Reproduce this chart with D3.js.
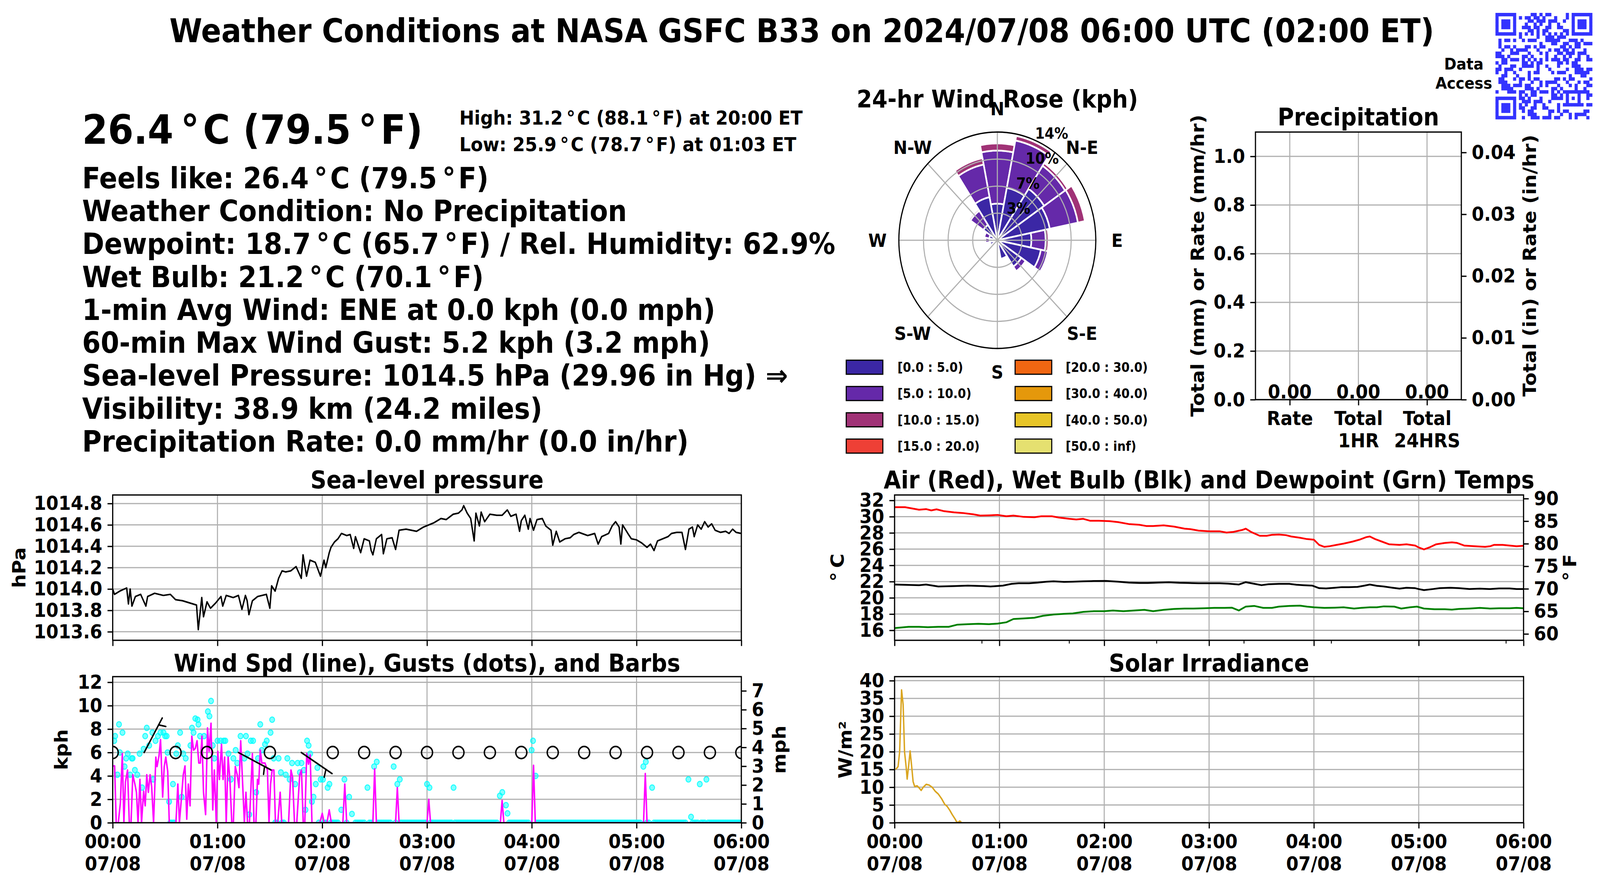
<!DOCTYPE html>
<html><head><meta charset="utf-8">
<script src="https://cdn.jsdelivr.net/npm/d3@7/dist/d3.min.js"></script>
<style>html,body{margin:0;padding:0;background:#fff;overflow:hidden;}
#chart{display:block;width:100vw;height:100vh;}</style>
</head>
<body><svg id="chart" viewBox="0 0 4500 2250" preserveAspectRatio="none" xmlns="http://www.w3.org/2000/svg"></svg>
<script>
// ================= DATA =================
const DEG = "\u2009°\u200A";
const titleText = "Weather Conditions at NASA GSFC B33 on 2024/07/08 06:00 UTC (02:00 ET)";
const headlineText = "26.4" + DEG + "C (79.5" + DEG + "F)";
const highLowText = ["High: 31.2" + DEG + "C (88.1" + DEG + "F) at 20:00 ET",
                     "Low: 25.9" + DEG + "C (78.7" + DEG + "F) at 01:03 ET"];
const infoText = [
  "Feels like: 26.4" + DEG + "C (79.5" + DEG + "F)",
  "Weather Condition: No Precipitation",
  "Dewpoint: 18.7" + DEG + "C (65.7" + DEG + "F) / Rel. Humidity: 62.9%",
  "Wet Bulb: 21.2" + DEG + "C (70.1" + DEG + "F)",
  "1-min Avg Wind: ENE at 0.0 kph (0.0 mph)",
  "60-min Max Wind Gust: 5.2 kph (3.2 mph)",
  "Sea-level Pressure: 1014.5 hPa (29.96 in Hg) \u21D2",
  "Visibility: 38.9 km (24.2 miles)",
  "Precipitation Rate: 0.0 mm/hr (0.0 in/hr)"
];

// Sea-level pressure (minutes after 00:00 UTC, hPa)
const pressureMin = [0,1,4,8,9,10,11,13,16,19,20,24,29,33,36,40,44,48,49,51,52,54,56,59,62,63,65,69,72,74,76,77,78,80,83,88,90,91,93,95,97,99,102,105,108,109,111,113,116,119,121,122,124,125,127,129,131,134,136,138,139,142,144,147,148,149,151,154,155,157,160,162,164,168,174,178,181,184,188,191,195,198,200,201,203,205,207,208,210,211,213,216,220,223,226,228,231,233,234,236,238,239,241,243,246,248,251,252,254,256,259,262,264,267,272,274,276,278,280,284,286,288,290,291,292,295,297,300,303,306,308,310,312,315,318,320,323,326,328,330,332,333,335,337,339,341,343,345,348,351,353,355,357,360];
const pressureHpa = [1014.00,1013.95,1013.98,1014.01,1013.86,1014.00,1013.84,1013.93,1013.95,1013.84,1013.93,1013.96,1013.94,1013.95,1013.90,1013.89,1013.87,1013.85,1013.62,1013.92,1013.74,1013.88,1013.82,1013.87,1013.93,1013.84,1013.94,1013.92,1013.94,1013.81,1013.94,1013.89,1013.76,1013.89,1013.93,1013.95,1013.82,1014.03,1013.98,1014.10,1014.17,1014.16,1014.17,1014.21,1014.10,1014.32,1014.12,1014.27,1014.25,1014.12,1014.27,1014.20,1014.34,1014.39,1014.44,1014.47,1014.52,1014.50,1014.51,1014.38,1014.49,1014.34,1014.47,1014.45,1014.36,1014.32,1014.47,1014.51,1014.33,1014.47,1014.48,1014.37,1014.55,1014.56,1014.54,1014.58,1014.60,1014.62,1014.66,1014.65,1014.70,1014.71,1014.74,1014.78,1014.71,1014.66,1014.45,1014.71,1014.59,1014.72,1014.63,1014.70,1014.69,1014.69,1014.74,1014.68,1014.70,1014.54,1014.64,1014.69,1014.56,1014.66,1014.55,1014.65,1014.66,1014.59,1014.55,1014.41,1014.54,1014.44,1014.47,1014.48,1014.51,1014.53,1014.50,1014.51,1014.52,1014.42,1014.49,1014.52,1014.59,1014.63,1014.58,1014.42,1014.60,1014.52,1014.47,1014.46,1014.43,1014.39,1014.42,1014.36,1014.45,1014.47,1014.49,1014.52,1014.53,1014.53,1014.37,1014.56,1014.58,1014.49,1014.60,1014.56,1014.63,1014.58,1014.61,1014.55,1014.53,1014.54,1014.52,1014.56,1014.53,1014.52];
const pressureTicks = [1013.6,1013.8,1014.0,1014.2,1014.4,1014.6,1014.8];

// Wind speed 1-min (kph)
const windMin = [0,1.1,2,3.2,4.4,5.5,6.4,7.3,8.5,9.5,10.5,11.5,12.7,13.6,14.5,15.6,16.5,17.7,18.6,19.5,20.4,21.4,22.3,23.4,24.7,25.4,26.5,27.4,28.6,29.5,30.4,31.5,32.4,36.2,37.3,38.2,39.4,40.4,41.4,42.4,43.3,44.3,45.3,46.3,47.3,48.3,49.3,50.2,51.1,52,53.2,54.3,55.2,56.3,57.3,58.2,59.3,60.2,61.1,62.3,63.2,64.1,65,66.1,67.1,68.2,69.1,70.2,71.3,72.3,73.3,74.3,75.4,76.3,77.2,78.3,80,80.9,82,82.9,83.6,84.5,85.4,87.2,88.6,89.5,90.4,91.3,92.3,93.2,94.5,95.9,96.8,100.7,102.1,103,104.1,105.4,107.1,108.1,109.1,110,111.1,112.1,113.1,114.1,118.6,120,121.1,122.7,124,125.2,131.8,132.9,134,149,150,151,162,163,164,180,181,182,222,223,224,240,241,242,304,305,306,360];
const windKph = [4.85,4.85,0,0,1.7,5.9,0,3.5,4.5,0,0,4.1,3.3,2.6,0,3.7,0,2.7,1.45,4.1,2.6,4.1,3.1,0,5.6,4.8,5.7,7.1,2.2,4.8,5.6,4.4,0,0,3.3,0,2.2,4.1,4.85,0.3,3.3,1.45,7.4,6.2,6.35,7.0,5.1,5.1,7.4,2.6,0.7,8.1,6.1,8.5,1.1,4.5,0,6.1,3.7,6.7,3.7,5.6,0,5.6,3.7,0,0,4.8,4.1,3.0,7.0,3.7,0,2.6,0,0,5.9,0,0,3.7,3.3,6.2,5.1,5.1,4.5,0,3.3,4.5,4.5,0,0,2.6,0,0,4.5,3.9,0,0,4.1,4.5,0,0,5.9,5.0,5.8,0,0,0.8,0,0,1.1,0,0,3.3,0,0,4.6,0,0,3.0,0,0,2.0,0,0,1.9,0,0,4.9,0,0,4.2,0,0];

// Wind gusts (kph)
const gustMin = [0.9,1.4,2.7,3.6,4.1,5.6,6.8,7.7,8.6,10.0,10.9,11.4,12.7,14.1,15.4,16.8,17.7,18.6,19.5,20.9,22.7,23.2,24.5,25.9,27.3,29.1,30.0,30.9,31.4,32.3,34.5,36.4,37.3,38.6,39.5,40.4,41.8,44.5,45.4,46.3,47.3,48.6,49.1,50.0,52.3,54.5,55.4,56.3,57.3,58.2,60.0,61.8,63.6,64.5,66.3,67.7,69.1,70.4,71.3,73.2,75.4,76.3,77.2,78.2,79.1,80.4,82.2,83.2,84.5,85.4,87.2,88.2,90.4,91.3,92.2,95.0,96.3,99.1,100.0,101.3,102.7,104.5,105.9,107.2,108.1,109.5,110.4,111.3,112.2,113.1,114.1,115.0,116.3,117.2,119.1,120.4,123.1,124.1,130.9,132.7,135.4,137.0,145.9,149.7,151.2,160.9,163.0,164.4,180.0,181.4,195.2,221.7,223.1,225.2,226.1,239.9,240.7,242.2,303.9,305.3,308.9,329.7,331.2,336.2,340.0];
const gustKph = [7.0,7.4,4.1,8.4,6.0,7.7,4.8,5.5,5.9,4.1,5.5,5.5,4.5,4.1,5.9,3.0,6.3,7.4,8.1,6.6,7.7,3.7,7.0,7.4,7.7,7.7,7.4,7.4,6.0,1.8,3.3,5.9,6.6,7.7,2.2,5.9,5.5,6.6,8.1,7.7,8.9,8.8,8.4,7.4,7.4,9.5,9.1,10.4,6.6,5.5,7.0,7.0,7.0,7.0,5.9,3.7,5.5,6.2,5.1,7.4,5.5,7.4,5.9,0.7,7.0,7.0,2.6,5.5,8.4,6.2,6.7,7.0,7.7,8.8,5.5,5.5,4.3,4.1,5.5,3.7,5.1,3.3,5.1,4.3,5.1,4.5,1.1,7.0,6.6,5.9,1.8,2.2,3.3,4.7,3.7,3.7,3.0,3.3,1.1,3.7,2.2,0.75,3.0,4.8,5.2,4.8,3.3,3.7,3.3,3.0,3.0,2.3,2.6,1.5,0.8,6.2,7.0,4.0,4.8,5.2,3.0,3.7,0.5,3.3,3.7];
const gustZeroMin = [33,34,35,93,94,97,98,118,121,122,125,126,127,128,129,134,139,140,141,142,143,144,147,148,152,153,154,155,156,157,158,159,162,165,166,167,168,169,170,171,172,173,174,175,176,177,178,179,182,183,184,185,186,187,188,189,190,191,192,193,194,196,197,198,199,200,201,202,203,204,205,206,207,208,209,210,211,212,213,214,215,216,217,218,219,220,227,228,229,230,231,232,233,234,235,236,237,238,243,244,245,246,247,248,249,250,251,252,253,254,255,256,257,258,259,260,261,262,263,264,265,266,267,268,269,270,271,272,273,274,275,276,277,278,279,280,281,282,283,284,285,286,287,288,289,290,291,292,293,294,295,296,297,298,299,300,301,302,306,307,310,311,312,313,314,315,316,317,318,319,320,321,322,323,324,325,326,327,328,332,333,334,335,337,338,339,341,342,343,344,345,346,347,348,349,350,351,352,353,354,355,356,357,358,359,360];
const windTicks = [0,2,4,6,8,10,12];
const mphTicks = [0,1,2,3,4,5,6,7];

// Wind barbs (every 18 min) speed kph and direction (deg, from)
const barbMin = [0,18,36,54,72,90,108,126,144,162,180,198,216,234,252,270,288,306,324,342,360];
const barbKph = [1.5,6.0,1.5,2.0,5.5,2.2,5.5,0.3,0,0,0,0,0,0,0,0,0,0,0,0,0];
const barbDir = [60,30,60,60,116,60,122,60,60,60,60,60,60,60,60,60,60,60,60,60,60];

// Temperatures (deg C)
const airMin = [0,6,14,18,21,24,28,34,39,45,49,54,59,64,68,74,80,84,90,94,100,104,108,112,117,123,128,134,140,144,148,154,160,166,170,174,180,186,190,194,199,201,204,209,213,216,220,224,227,232,236,240,243,246,249,253,257,262,266,270,272,275,279,283,289,293,298,300,303,306,310,315,319,322,326,332,338,341,343,348,352,356,360];
const airC = [31.17,31.17,30.85,30.93,30.77,30.90,30.69,30.53,30.45,30.29,30.13,30.16,30.21,30.05,30.13,29.97,29.93,30.05,30.05,29.89,29.73,29.65,29.73,29.49,29.49,29.45,29.33,29.09,29.00,28.85,28.85,28.93,28.77,28.52,28.44,28.28,28.20,28.20,28.04,28.12,28.36,28.52,28.12,27.64,27.64,27.76,27.80,27.72,27.56,27.40,27.24,27.16,26.52,26.28,26.36,26.52,26.68,26.92,27.16,27.48,27.56,27.24,26.92,26.60,26.52,26.60,26.44,26.20,25.96,26.20,26.60,26.76,26.84,26.76,26.44,26.36,26.28,26.36,26.52,26.52,26.44,26.36,26.41];
const wetMin = [0,14,18,25,34,42,51,55,62,67,71,77,82,87,91,97,102,108,114,121,128,134,140,145,151,157,163,168,174,180,186,191,197,201,206,210,214,220,226,230,234,239,243,247,252,256,260,265,269,272,276,280,285,289,293,298,300,303,308,312,318,323,329,335,341,346,352,356,360];
const wetC = [21.64,21.56,21.64,21.40,21.45,21.51,21.45,21.40,21.51,21.72,21.80,21.80,21.88,21.99,22.04,21.96,21.99,22.04,22.07,22.08,21.99,21.88,21.83,21.83,21.88,21.91,21.85,21.83,21.80,21.80,21.80,21.75,21.64,21.93,21.72,21.56,21.67,21.72,21.72,21.61,21.56,21.51,21.19,21.16,21.24,21.32,21.32,21.35,21.51,21.64,21.48,21.40,21.24,21.13,21.24,21.19,21.08,20.95,21.08,21.19,21.24,21.19,21.08,21.13,21.08,21.16,21.16,21.08,21.08];
const dewMin = [0,8,14,19,25,31,36,42,48,54,59,64,68,74,80,85,91,97,102,108,114,120,125,131,137,143,148,154,160,166,171,177,183,189,193,197,201,206,211,216,220,226,232,236,240,246,252,257,263,267,272,276,280,286,290,295,299,303,309,315,319,323,329,335,341,346,352,356,360];
const dewC = [16.27,16.43,16.43,16.38,16.43,16.43,16.70,16.75,16.80,16.75,16.83,16.99,17.39,17.47,17.55,17.79,17.95,18.03,18.08,18.27,18.35,18.35,18.44,18.35,18.44,18.52,18.35,18.52,18.63,18.68,18.68,18.72,18.76,18.76,18.79,18.44,18.92,19.00,18.76,18.76,18.92,19.00,19.04,18.92,18.84,18.76,18.79,18.84,18.68,18.76,18.84,18.84,18.95,18.92,18.68,18.84,18.92,18.68,18.60,18.60,18.55,18.63,18.68,18.76,18.68,18.72,18.72,18.76,18.72];
const tempCTicks = [16,18,20,22,24,26,28,30,32];
const tempFTicks = [60,65,70,75,80,85,90];
const tempMinorMin = [50,100,150,200,250,350];

// Solar irradiance (W/m2)
const solarMin = [0.6,2.0,2.9,4.0,4.9,5.7,6.6,7.2,8.0,8.9,9.8,10.6,11.5,12.9,14.1,15.2,16.4,18.1,19.8,21.5,23.2,25.0,27.0,28.7,30.1,31.6,33.0,34.7,35.6,36.4,37.3,38.2];
const solarWm2 = [15.0,15.8,20.0,37.4,33.3,20.0,15.8,12.3,15.8,20.2,15.8,11.6,10.2,10.4,9.8,9.1,10.0,10.8,10.6,10.0,8.9,8.1,6.7,5.2,4.6,3.5,2.3,1.0,0.2,0.1,0.5,0.1];
const solarTicks = [0,5,10,15,20,25,30,35,40];

// Precipitation
const precipCats = [["Rate"],["Total","1HR"],["Total","24HRS"]];
const precipMm = [0,0,0];
const precipMmTicks = [0,0.2,0.4,0.6,0.8,1.0];
const precipInTicks = [0,0.01,0.02,0.03,0.04];

// Wind rose (percent of time per direction, by speed bin)
const roseDirs = ["N","NNE","NE","ENE","E","ESE","SE","SSE","S","SSW","SW","WSW","W","WNW","NW","NNW"];
const roseBin0 = [4.70,6.88,7.95,7.55,4.81,6.27,4.07,2.43,0.50,0.10,0.10,1.07,1.06,1.18,2.38,5.65];
const roseBin1 = [6.82,6.19,3.55,4.05,2.02,1.00,0.72,0,0,0,0,0,0.64,0.70,2.19,4.27];
const roseBin2 = [0.92,0.60,0.42,1.00,0.40,0,0,0,0,0,0,0,0.23,0,0.24,0.83];
const roseBinLabels = ["[0.0 : 5.0)","[5.0 : 10.0)","[10.0 : 15.0)","[15.0 : 20.0)","[20.0 : 30.0)","[30.0 : 40.0)","[40.0 : 50.0)","[50.0 : inf)"];
const roseColors = ["#3b27a5","#6529a9","#a03276","#ee4036","#f06612","#e5980b","#e6c427","#e5e070"];
const compassLabels = ["N","N-E","E","S-E","S","S-W","W","N-W"];

// ================= DRAWING =================
const svg = d3.select("#chart");
const FONT = "'DejaVu Sans', Verdana, sans-serif";
svg.attr("font-family", FONT).attr("font-weight", "bold");
svg.append("rect").attr("width", 4500).attr("height", 2250).attr("fill", "#fff");
const GRID = "#b0b0b0";
const t0 = Date.UTC(2024, 6, 8, 0, 0);
const toDate = m => new Date(t0 + m * 60000);
let clipN = 0;

function text(x, y, s, fs, anchor) {
  return svg.append("text").attr("x", x).attr("y", y).attr("font-size", fs)
    .attr("text-anchor", anchor || "start").attr("fill", "#000").text(s);
}
function vlabel(x, y, s, fs) {
  return svg.append("text").attr("transform", `translate(${x},${y}) rotate(-90)`)
    .attr("font-size", fs).attr("text-anchor", "middle").attr("dy", "0.35em").attr("fill", "#000").text(s);
}
function styleAxis(a, fs) {
  a.attr("font-family", FONT).attr("font-size", fs).attr("font-weight", "bold");
  a.select(".domain").remove();
  a.selectAll(".tick line").attr("stroke", "#000").attr("stroke-width", 3.3);
  a.selectAll(".tick text").attr("fill", "#000");
}

// ---- Header ----
text(2255, 108, titleText, 83.6, "middle");
text(4117, 178, "Data", 41.7, "middle");
text(4117, 227, "Access", 41.7, "middle");
// QR-like code block
(function () {
  const n = 33, x0 = 4206, y0 = 33, s = 272 / n;
  const g = svg.append("g").attr("fill", "#3333ff");
  const finder = (r, c, R, C) => {
    const dr = r - R, dc = c - C;
    if (dr < 0 || dr > 6 || dc < 0 || dc > 6) return null;
    const m = Math.max(Math.abs(dr - 3), Math.abs(dc - 3));
    return m === 3 || m <= 1;
  };
  const cells = [];
  for (let r = 0; r < n; r++) for (let c = 0; c < n; c++) {
    let v = finder(r, c, 0, 0);
    if (v === null) v = finder(r, c, 0, 26);
    if (v === null) v = finder(r, c, 26, 0);
    if (v === null) {
      if ((r === 7 && c < 8) || (c === 7 && r < 8) || (r === 7 && c > 24) || (c === 25 && r < 8) || (r === 25 && c < 8) || (c === 7 && r > 24)) v = false;
      else if (r >= 24 && r <= 28 && c >= 24 && c <= 28) { const m = Math.max(Math.abs(r - 26), Math.abs(c - 26)); v = m !== 1; }
      else if (r === 6) v = c % 2 === 0;
      else if (c === 6) v = r % 2 === 0;
      else v = ((r * 7 + c * 11 + ((r * c) % 5)) % 3 === 0) !== ((r + c) % 4 === 1);
    }
    if (v) cells.push([r, c]);
  }
  g.selectAll("rect").data(cells).join("rect")
    .attr("x", d => x0 + d[1] * s).attr("y", d => y0 + d[0] * s)
    .attr("width", s + 0.6).attr("height", s + 0.6);
})();

// ---- Left text block ----
text(231, 368, headlineText, 104);
text(1292, 319, highLowText[0], 50);
text(1292, 387, highLowText[1], 50);
infoText.forEach((s, i) => text(231, 482 + i * 84.25, s, 75));

// ---- Time panels ----
function timePanel(box, yDomain, yTicks) {
  const x = d3.scaleUtc().domain([toDate(0), toDate(360)]).range([box.x0, box.x1]);
  const y = d3.scaleLinear().domain(yDomain).range([box.y1, box.y0]);
  const g = svg.append("g");
  const hours = d3.utcHour.range(toDate(0), toDate(360.5));
  g.append("g").selectAll("line").data(hours).join("line")
    .attr("x1", d => x(d)).attr("x2", d => x(d)).attr("y1", box.y0).attr("y2", box.y1)
    .attr("stroke", GRID).attr("stroke-width", 3);
  g.append("g").selectAll("line").data(yTicks).join("line")
    .attr("x1", box.x0).attr("x2", box.x1).attr("y1", d => y(d)).attr("y2", d => y(d))
    .attr("stroke", GRID).attr("stroke-width", 3);
  const id = "clip" + (clipN++);
  svg.append("clipPath").attr("id", id).append("rect")
    .attr("x", box.x0).attr("y", box.y0).attr("width", box.x1 - box.x0).attr("height", box.y1 - box.y0);
  const data = g.append("g").attr("clip-path", `url(#${id})`);
  return { x, y, g, data, hours, box };
}
function finishPanel(p, yTicks, yFmt, showX) {
  const b = p.box;
  p.g.append("rect").attr("x", b.x0).attr("y", b.y0).attr("width", b.x1 - b.x0).attr("height", b.y1 - b.y0)
    .attr("fill", "none").attr("stroke", "#000").attr("stroke-width", 3.3);
  const ay = p.g.append("g").attr("transform", `translate(${b.x0},0)`)
    .call(d3.axisLeft(p.y).tickValues(yTicks).tickFormat(yFmt).tickSize(14.6).tickPadding(14.6));
  styleAxis(ay, 50);
  const ax = p.g.append("g").attr("transform", `translate(0,${b.y1})`)
    .call(d3.axisBottom(p.x).tickValues(p.hours).tickSize(14.6).tickPadding(14.6).tickFormat(() => ""));
  styleAxis(ax, 50);
  if (showX) {
    ax.selectAll(".tick text").attr("dy", 0).each(function (d) {
      const t = d3.select(this);
      t.append("tspan").attr("x", 0).attr("dy", "0.71em").text(d3.utcFormat("%H:%M")(d));
      t.append("tspan").attr("x", 0).attr("dy", "1.15em").text(d3.utcFormat("%m/%d")(d));
    });
  }
  return { ax, ay };
}

// Pressure panel
{
  const pMin = d3.min(pressureHpa) - 0.1, pMax = d3.max(pressureHpa) + 0.1;
  const p = timePanel({ x0: 317, x1: 2085, y0: 1267, y1: 1639 }, [pMin, pMax], pressureTicks);
  p.data.append("path").datum(pressureMin.map((m, i) => [m, pressureHpa[i]]))
    .attr("fill", "none").attr("stroke", "#000").attr("stroke-width", 4).attr("stroke-linejoin", "round")
    .attr("d", d3.line().x(d => p.x(toDate(d[0]))).y(d => p.y(d[1])));
  finishPanel(p, pressureTicks, d3.format(".1f"), false);
  text((317 + 2085) / 2, 1250, "Sea-level pressure", 62.5, "middle");
  vlabel(54, 1453, "hPa", 50);
}

// Wind panel
{
  const yMax = d3.max(gustKph) * 1.2;
  const p = timePanel({ x0: 317, x1: 2085, y0: 1732, y1: 2106 }, [0, yMax], windTicks);
  p.data.append("g").selectAll("circle").data(gustZeroMin.map(m => [m, 0]).concat(gustMin.map((m, i) => [m, gustKph[i]])))
    .join("circle").attr("cx", d => p.x(toDate(d[0]))).attr("cy", d => p.y(d[1])).attr("r", 7)
    .attr("fill", "#00ffff").attr("fill-opacity", 0.5).attr("stroke", "#00ffff").attr("stroke-opacity", 0.85).attr("stroke-width", 2.5);
  p.data.append("path").datum(windMin.map((m, i) => [m, windKph[i]]))
    .attr("fill", "none").attr("stroke", "#ff00ff").attr("stroke-width", 4.2).attr("stroke-linejoin", "round")
    .attr("d", d3.line().x(d => p.x(toDate(d[0]))).y(d => p.y(d[1])));
  const bg = p.data.append("g").attr("stroke", "#000").attr("fill", "none").attr("stroke-linecap", "round");
  barbMin.forEach((m, i) => {
    const bx = p.x(toDate(m)), by = p.y(6);
    if (barbKph[i] < 2.5) {
      bg.append("circle").attr("cx", bx).attr("cy", by).attr("r", 15.5).attr("stroke-width", 4);
    } else {
      const a = barbDir[i] * Math.PI / 180, L = 102;
      const ux = Math.sin(a), uy = -Math.cos(a);
      const px = -uy, py = ux;
      bg.append("line").attr("x1", bx).attr("y1", by).attr("x2", bx + L * ux).attr("y2", by + L * uy).attr("stroke-width", 4);
      const sx = bx + 0.8 * L * ux, sy = by + 0.8 * L * uy;
      bg.append("line").attr("x1", sx).attr("y1", sy).attr("x2", sx + 19.5 * px + 6.5 * ux).attr("y2", sy + 19.5 * py + 6.5 * uy).attr("stroke-width", 4);
    }
  });
  finishPanel(p, windTicks, d3.format("d"), true);
  const yM = d3.scaleLinear().domain([0, yMax / 1.609344]).range([2106, 1732]);
  const ar = p.g.append("g").attr("transform", "translate(2085,0)")
    .call(d3.axisRight(yM).tickValues(mphTicks).tickFormat(d3.format("d")).tickSize(14.6).tickPadding(14.6));
  styleAxis(ar, 50);
  text((317 + 2085) / 2, 1719, "Wind Spd (line), Gusts (dots), and Barbs", 62.5, "middle");
  vlabel(173, 1919, "kph", 50);
  vlabel(2192, 1919, "mph", 50);
}

// Temperature panel
{
  const all = airC.concat(wetC, dewC);
  const lo = d3.min(all) - 1.5, hi = d3.max(all) + 1.5;
  const p = timePanel({ x0: 2516, x1: 4285, y0: 1267, y1: 1639 }, [lo, hi], tempCTicks);
  const line = d3.line().x(d => p.x(toDate(d[0]))).y(d => p.y(d[1]));
  [[airMin, airC, "#ff0000"], [wetMin, wetC, "#000000"], [dewMin, dewC, "#008000"]].forEach(([mm, vv, col]) => {
    p.data.append("path").datum(mm.map((m, i) => [m, vv[i]]))
      .attr("fill", "none").attr("stroke", col).attr("stroke-width", 4.5).attr("stroke-linejoin", "round").attr("d", line);
  });
  finishPanel(p, tempCTicks, d3.format("d"), false);
  p.g.append("g").selectAll("line").data(tempMinorMin).join("line")
    .attr("x1", d => p.x(toDate(d))).attr("x2", d => p.x(toDate(d))).attr("y1", 1639).attr("y2", 1639 + 8.3)
    .attr("stroke", "#000").attr("stroke-width", 2.5);
  const c2f = c => c * 9 / 5 + 32;
  const yF = d3.scaleLinear().domain([c2f(lo), c2f(hi)]).range([1639, 1267]);
  const ar = p.g.append("g").attr("transform", "translate(4285,0)")
    .call(d3.axisRight(yF).tickValues(tempFTicks).tickFormat(d3.format("d")).tickSize(14.6).tickPadding(14.6));
  styleAxis(ar, 50);
  text((2516 + 4285) / 2, 1250, "Air (Red), Wet Bulb (Blk) and Dewpoint (Grn) Temps", 62.5, "middle");
  vlabel(2356, 1453, "°\u2009C", 50);
  vlabel(4415, 1453, "°\u2009F", 50);
}

// Solar panel
{
  const p = timePanel({ x0: 2516, x1: 4285, y0: 1732, y1: 2106 }, [0, d3.max(solarWm2) * 1.1], solarTicks);
  p.data.append("path").datum(solarMin.map((m, i) => [m, solarWm2[i]]))
    .attr("fill", "none").attr("stroke", "#daa520").attr("stroke-width", 4).attr("stroke-linejoin", "round")
    .attr("d", d3.line().x(d => p.x(toDate(d[0]))).y(d => p.y(d[1])));
  finishPanel(p, solarTicks, d3.format("d"), true);
  text((2516 + 4285) / 2, 1719, "Solar Irradiance", 62.5, "middle");
  vlabel(2378, 1919, "W/m²", 50);
}

// ---- Precipitation panel ----
{
  const b = { x0: 3531, x1: 4110, y0: 338, y1: 1023 };
  const x = d3.scaleLinear().domain([-0.5, 2.5]).range([b.x0, b.x1]);
  const y = d3.scaleLinear().domain([0, Math.max(1, d3.max(precipMm)) * 1.1]).range([b.y1, b.y0]);
  const g = svg.append("g");
  const idx = precipCats.map((c, i) => i);
  g.append("g").selectAll("line").data(idx).join("line")
    .attr("x1", d => x(d)).attr("x2", d => x(d)).attr("y1", b.y0).attr("y2", b.y1).attr("stroke", GRID).attr("stroke-width", 3);
  g.append("g").selectAll("line").data(precipMmTicks).join("line")
    .attr("x1", b.x0).attr("x2", b.x1).attr("y1", d => y(d)).attr("y2", d => y(d)).attr("stroke", GRID).attr("stroke-width", 3);
  g.append("g").selectAll("rect").data(precipMm).join("rect")
    .attr("x", (d, i) => x(i - 0.4)).attr("width", x(0.8) - x(0)).attr("y", d => y(d)).attr("height", d => b.y1 - y(d)).attr("fill", "#1f77b4");
  g.append("g").selectAll("text").data(precipMm).join("text")
    .attr("x", (d, i) => x(i)).attr("y", d => y(d) - 3).attr("text-anchor", "middle").attr("font-size", 50).text(d => d3.format(".2f")(d));
  g.append("rect").attr("x", b.x0).attr("y", b.y0).attr("width", b.x1 - b.x0).attr("height", b.y1 - b.y0)
    .attr("fill", "none").attr("stroke", "#000").attr("stroke-width", 3.3);
  const ay = g.append("g").attr("transform", `translate(${b.x0},0)`)
    .call(d3.axisLeft(y).tickValues(precipMmTicks).tickFormat(d3.format(".1f")).tickSize(14.6).tickPadding(14.6));
  styleAxis(ay, 50);
  const yIn = d3.scaleLinear().domain(y.domain().map(v => v / 25.4)).range([b.y1, b.y0]);
  const ar = g.append("g").attr("transform", `translate(${b.x1},0)`)
    .call(d3.axisRight(yIn).tickValues(precipInTicks).tickFormat(d3.format(".2f")).tickSize(14.6).tickPadding(14.6));
  styleAxis(ar, 50);
  const ax = g.append("g").attr("transform", `translate(0,${b.y1})`)
    .call(d3.axisBottom(x).tickValues(idx).tickFormat(() => "").tickSize(14.6).tickPadding(14.6));
  styleAxis(ax, 50);
  ax.selectAll(".tick text").attr("dy", 0).each(function (d) {
    const t = d3.select(this);
    precipCats[d].forEach((s, k) => t.append("tspan").attr("x", 0).attr("dy", k === 0 ? "0.71em" : "1.15em").text(s));
  });
  text((b.x0 + b.x1) / 2, 321, "Precipitation", 62.5, "middle");
  vlabel(3369, 680, "Total (mm) or Rate (mm/hr)", 50);
  vlabel(4302, 680, "Total (in) or Rate (in/hr)", 50);
}

// ---- Wind rose ----
{
  const cx = 2805, cy = 615, R = 277;
  const bins = [roseBin0, roseBin1, roseBin2];
  const rMax = 13.9;
  const rs = d3.scaleLinear().domain([0, rMax]).range([0, R]);
  const ang = d3.scaleLinear().domain([0, roseDirs.length]).range([0, 2 * Math.PI]);
  const half = Math.PI / roseDirs.length;
  const arc = d3.arc();
  const g = svg.append("g").attr("transform", `translate(${cx},${cy})`);
  const segs = [];
  roseDirs.forEach((d, i) => {
    let acc = 0;
    bins.forEach((b, k) => {
      if (b[i] > 0) segs.push({ i, k, r0: acc, r1: acc + b[i] });
      acc += b[i];
    });
  });
  g.append("g").selectAll("path").data(segs).join("path")
    .attr("d", s => arc({ innerRadius: rs(s.r0), outerRadius: rs(s.r1), startAngle: ang(s.i) - half, endAngle: ang(s.i) + half }))
    .attr("fill", s => roseColors[s.k]).attr("stroke", "#fff").attr("stroke-width", 4.5).attr("stroke-linejoin", "miter");
  const rings = [1, 2, 3].map(k => rMax * k / 4);
  g.append("g").selectAll("circle").data(rings).join("circle").attr("r", d => rs(d))
    .attr("fill", "none").attr("stroke", GRID).attr("stroke-width", 3);
  g.append("g").selectAll("line").data(d3.range(8)).join("line")
    .attr("x1", 0).attr("y1", 0).attr("x2", d => R * Math.sin(d * Math.PI / 4)).attr("y2", d => -R * Math.cos(d * Math.PI / 4))
    .attr("stroke", GRID).attr("stroke-width", 3);
  g.append("circle").attr("r", R).attr("fill", "none").attr("stroke", "#000").attr("stroke-width", 3.3);
  const ra = 22.5 * Math.PI / 180;
  g.append("g").selectAll("text").data(rings.concat([rMax])).join("text")
    .attr("x", d => rs(d) * Math.sin(ra)).attr("y", d => -rs(d) * Math.cos(ra) - 4)
    .attr("font-size", 39).attr("fill", "#000").text(d => d3.format(".0f")(d) + "%");
  g.append("g").selectAll("text").data(compassLabels).join("text")
    .attr("x", (d, i) => 337 * Math.sin(i * Math.PI / 4)).attr("y", (d, i) => -337 * Math.cos(i * Math.PI / 4))
    .attr("dy", "0.36em").attr("text-anchor", "middle").attr("font-size", 47).attr("fill", "#000").text(d => d);
  text(cx, 275, "24-hr Wind Rose (kph)", 62.5, "middle");
  const lg = svg.append("g");
  roseBinLabels.forEach((lab, i) => {
    const col = Math.floor(i / 4), row = i % 4;
    const px = col === 0 ? 2380 : 2855, tx = col === 0 ? 2524 : 2997, py = 940 + row * 67.3;
    lg.append("rect").attr("x", px).attr("y", py - 18).attr("width", 103).attr("height", 36)
      .attr("fill", roseColors[i]).attr("stroke", "#000").attr("stroke-width", 3);
    lg.append("text").attr("x", tx).attr("y", py).attr("dy", "0.36em").attr("font-size", 33.3).attr("fill", "#000").text(lab);
  });
}
</script>
</body></html>
